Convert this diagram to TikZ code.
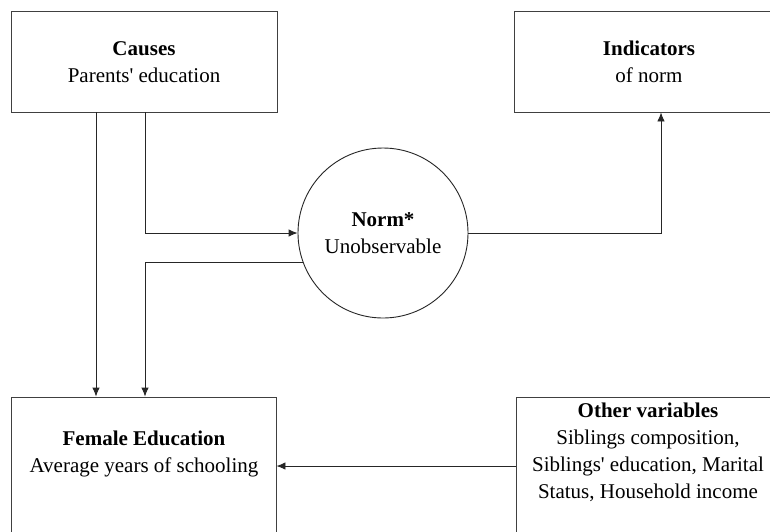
\documentclass[tikz,border=0pt]{standalone}
\usepackage{fontspec}
\setmainfont{Liberation Serif}
\usetikzlibrary{arrows.meta}
\begin{document}
\begin{tikzpicture}[x=1pt,y=-1pt,
  box/.style={draw=black!75,line width=0.9pt,rectangle,inner sep=0pt,fill=white},
  txt/.style={align=center,font=\fontsize{21}{27}\selectfont,inner sep=0pt},
  conn/.style={draw=black!85,line width=0.9pt},
  arr/.style={conn,-{Latex[length=9pt,width=7.5pt]}}]
\useasboundingbox (0,0) rectangle (770,531);
\clip (0,0) rectangle (770,531);
\fill[white] (0,0) rectangle (770,531);
% boxes
\node[box,minimum width=266pt,minimum height=101pt] (causes) at (144,61.5) {};
\node[box,minimum width=270pt,minimum height=101pt] (ind) at (649,61.5) {};
\node[box,minimum width=265pt,minimum height=160pt] (female) at (143.5,477) {};
\node[box,minimum width=264pt,minimum height=160pt] (other) at (648,477) {};
\node[draw=black!85,line width=0.9pt,circle,minimum size=170pt,inner sep=0pt] (norm) at (383,233) {};
% texts (anchor = baseline of last line)
\node[txt,anchor=base] (causesT) at (144,82) {\textbf{Causes}\\Parents\textquotesingle{} education};
\node[txt,anchor=base] (indT) at (649,82) {\textbf{Indicators}\\of norm};
\node[txt,anchor=base] (normT) at (383,253) {\textbf{Norm*}\\Unobservable};
\node[txt,anchor=base] (femaleT) at (144,472) {\textbf{Female Education}\\Average years of schooling};
\node[txt,anchor=base] (otherT) at (648,498) {\textbf{Other variables}\\Siblings composition,\\Siblings\textquotesingle{} education, Marital\\Status, Household income};
% connector guides
\coordinate (c1) at (96,0);
\coordinate (c2) at (145,0);
\coordinate (c3) at (661,0);
\coordinate (c4) at (0,466);
% connectors
\draw[arr] (causes.south -| c1) -- (female.north -| c1);
\draw[arr] (causes.south -| c2) |- (norm.west);
\draw[arr] (norm.200) -| (female.north -| c2);
\draw[arr] (norm.east) -| (ind.south -| c3);
\draw[arr] (other.west |- c4) -- (female.east |- c4);
\end{tikzpicture}
\end{document}
